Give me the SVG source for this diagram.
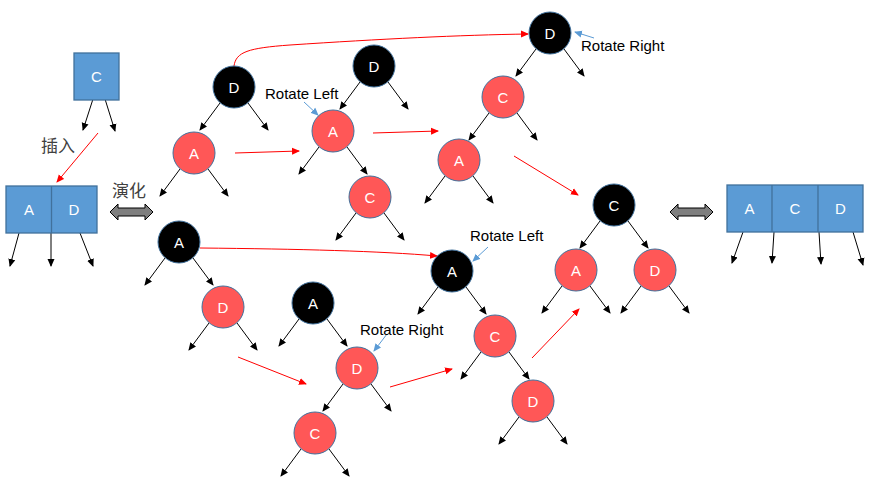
<svg xmlns="http://www.w3.org/2000/svg" width="875" height="495" viewBox="0 0 875 495">
<defs>
<marker id="mb" markerUnits="userSpaceOnUse" markerWidth="8" markerHeight="8" viewBox="0 0 8 8" refX="7" refY="4" orient="auto"><path d="M0,0.5 L8,4 L0,7.5 z" fill="#000"/></marker>
<marker id="mr" markerUnits="userSpaceOnUse" markerWidth="8" markerHeight="8" viewBox="0 0 8 8" refX="7" refY="4" orient="auto"><path d="M0,0.5 L8,4 L0,7.5 z" fill="#FF0000"/></marker>
<marker id="mu" markerUnits="userSpaceOnUse" markerWidth="8" markerHeight="8" viewBox="0 0 8 8" refX="7" refY="4" orient="auto"><path d="M0,0.5 L8,4 L0,7.5 z" fill="#5B9BD5"/></marker>
</defs>
<style>
.blk{fill:#000;stroke:#41719C;stroke-width:1}
.red{fill:#FF5757;stroke:#41719C;stroke-width:1}
.box{fill:#5B9BD5;stroke:#41719C;stroke-width:1.3}
.nt{font-family:"Liberation Sans",Arial,sans-serif;font-size:15px;fill:#fff;text-anchor:middle}
.lb{font-family:"Liberation Sans",Arial,sans-serif;font-size:15px;fill:#000}
.cj{font-family:"Liberation Sans","Noto Sans CJK SC",sans-serif;font-size:17px;fill:#404040}
.ka{stroke:#000;stroke-width:1;fill:none;marker-end:url(#mb)}
.ra{stroke:#FF0000;stroke-width:1;fill:none;marker-end:url(#mr)}
.ua{stroke:#5B9BD5;stroke-width:1;fill:none;marker-end:url(#mu)}
.dbl{fill:#7F7F7F;stroke:#000;stroke-width:1}
</style>
<rect width="875" height="495" fill="#fff"/>

<g id="connectors">
<!-- tree child arrows -->
<path class="ka" d="M220,103 L200,130"/><path class="ka" d="M248,103 L268,130"/>
<path class="ka" d="M180,169 L160,196"/><path class="ka" d="M208,169 L228,196"/>
<path class="ka" d="M360,82 L340,109"/><path class="ka" d="M388,82 L408,109"/>
<path class="ka" d="M319,147 L299,174"/><path class="ka" d="M347,147 L367,174"/>
<path class="ka" d="M356,213 L336,240"/><path class="ka" d="M384,213 L404,240"/>
<path class="ka" d="M536,49 L516,76"/><path class="ka" d="M564,49 L584,76"/>
<path class="ka" d="M489,113 L469,140"/><path class="ka" d="M517,113 L537,140"/>
<path class="ka" d="M445,176 L425,203"/><path class="ka" d="M473,176 L493,203"/>
<path class="ka" d="M600,221 L580,248"/><path class="ka" d="M628,221 L648,248"/>
<path class="ka" d="M562,286 L542,313"/><path class="ka" d="M590,286 L610,313"/>
<path class="ka" d="M641,286 L621,313"/><path class="ka" d="M669,286 L689,313"/>
<path class="ka" d="M165,258 L145,285"/><path class="ka" d="M193,258 L213,285"/>
<path class="ka" d="M209,323 L189,350"/><path class="ka" d="M237,323 L257,350"/>
<path class="ka" d="M299,319 L279,346"/><path class="ka" d="M327,319 L347,346"/>
<path class="ka" d="M343,384 L323,411"/><path class="ka" d="M371,384 L391,411"/>
<path class="ka" d="M301,449 L281,476"/><path class="ka" d="M329,449 L349,476"/>
<path class="ka" d="M438,287 L418,314"/><path class="ka" d="M466,287 L486,314"/>
<path class="ka" d="M481,352 L461,379"/><path class="ka" d="M509,352 L529,379"/>
<path class="ka" d="M519,417 L499,444"/><path class="ka" d="M547,417 L567,444"/>
<!-- box pointer arrows -->
<path class="ka" d="M93,99 L83,130"/><path class="ka" d="M105,99 L115,131"/>
<path class="ka" d="M19,233 L10,266"/><path class="ka" d="M51,230 L51,266"/><path class="ka" d="M80,233 L93,266"/>
<path class="ka" d="M743,232 L732,263"/><path class="ka" d="M774,232 L772,263"/><path class="ka" d="M819,232 L821,264"/><path class="ka" d="M853,232 L863,265"/>
<!-- red transition arrows -->
<path class="ra" d="M98,133 L57,182"/>
<path class="ra" d="M234,66 C236,52 248,48 290,45 C380,39 460,35 528,34"/>
<path class="ra" d="M235,153 L299,151"/>
<path class="ra" d="M373,133 L438,131"/>
<path class="ra" d="M514,156 L578,195"/>
<path class="ra" d="M200,248 C300,249 380,251 437,256"/>
<path class="ra" d="M238,357 L306,384"/>
<path class="ra" d="M390,387 L452,369"/>
<path class="ra" d="M532,358 L579,309"/>
<!-- blue rotate pointers -->
<path class="ua" d="M304,102 L318,115"/>
<path class="ua" d="M594,38 L575,32"/>
<path class="ua" d="M488,247 L473,261"/>
<path class="ua" d="M387,334 L374,351"/>
</g>

<g id="box-c"><rect class="box" x="74" y="53" width="45" height="47"/><text class="nt" x="96.5" y="82">C</text></g>
<g id="box-ad"><rect class="box" x="6" y="186" width="91" height="47"/><line x1="51.5" y1="186" x2="51.5" y2="233" stroke="#41719C" stroke-width="1.3"/><text class="nt" x="29" y="215">A</text><text class="nt" x="74" y="215">D</text></g>
<g id="box-acd"><rect class="box" x="727" y="185" width="136" height="47"/><line x1="772" y1="185" x2="772" y2="232" stroke="#41719C" stroke-width="1.3"/><line x1="818" y1="185" x2="818" y2="232" stroke="#41719C" stroke-width="1.3"/><text class="nt" x="749.5" y="214">A</text><text class="nt" x="795" y="214">C</text><text class="nt" x="840.5" y="214">D</text></g>

<g id="label-insert"><text class="cj" x="41" y="152">插入</text></g>
<g id="label-evolve"><text class="cj" x="112" y="197">演化</text></g>
<g id="dbl-left"><polygon class="dbl" points="110,212 118,204 118,208 145,208 145,204 153,212 145,220 145,216 118,216 118,220"/></g>
<g id="dbl-right"><polygon class="dbl" points="670,212 678,204 678,208 705,208 705,204 713,212 705,220 705,216 678,216 678,220"/></g>

<g id="n1"><circle class="blk" cx="234" cy="87" r="21"/><text class="nt" x="234" y="92.5">D</text></g>
<g id="n2"><circle class="red" cx="194" cy="153" r="21"/><text class="nt" x="194" y="158.5">A</text></g>
<g id="n3"><circle class="blk" cx="374" cy="66" r="21"/><text class="nt" x="374" y="71.5">D</text></g>
<g id="n4"><circle class="red" cx="333" cy="131" r="21"/><text class="nt" x="333" y="136.5">A</text></g>
<g id="n5"><circle class="red" cx="370" cy="197" r="21"/><text class="nt" x="370" y="202.5">C</text></g>
<g id="n6"><circle class="blk" cx="550" cy="33" r="21"/><text class="nt" x="550" y="38.5">D</text></g>
<g id="n7"><circle class="red" cx="503" cy="97" r="21"/><text class="nt" x="503" y="102.5">C</text></g>
<g id="n8"><circle class="red" cx="459" cy="160" r="21"/><text class="nt" x="459" y="165.5">A</text></g>
<g id="n9"><circle class="blk" cx="614" cy="205" r="21"/><text class="nt" x="614" y="210.5">C</text></g>
<g id="n10"><circle class="red" cx="576" cy="270" r="21"/><text class="nt" x="576" y="275.5">A</text></g>
<g id="n11"><circle class="red" cx="655" cy="270" r="21"/><text class="nt" x="655" y="275.5">D</text></g>
<g id="n12"><circle class="blk" cx="179" cy="242" r="21"/><text class="nt" x="179" y="247.5">A</text></g>
<g id="n13"><circle class="red" cx="223" cy="307" r="21"/><text class="nt" x="223" y="312.5">D</text></g>
<g id="n14"><circle class="blk" cx="313" cy="303" r="21"/><text class="nt" x="313" y="308.5">A</text></g>
<g id="n15"><circle class="red" cx="357" cy="368" r="21"/><text class="nt" x="357" y="373.5">D</text></g>
<g id="n16"><circle class="red" cx="315" cy="433" r="21"/><text class="nt" x="315" y="438.5">C</text></g>
<g id="n17"><circle class="blk" cx="452" cy="271" r="21"/><text class="nt" x="452" y="276.5">A</text></g>
<g id="n18"><circle class="red" cx="495" cy="336" r="21"/><text class="nt" x="495" y="341.5">C</text></g>
<g id="n19"><circle class="red" cx="533" cy="401" r="21"/><text class="nt" x="533" y="406.5">D</text></g>

<g id="label-rl1"><text class="lb" x="265" y="99">Rotate Left</text></g>
<g id="label-rr1"><text class="lb" x="581" y="51">Rotate Right</text></g>
<g id="label-rl2"><text class="lb" x="470" y="241">Rotate Left</text></g>
<g id="label-rr2"><text class="lb" x="360" y="335">Rotate Right</text></g>
</svg>
